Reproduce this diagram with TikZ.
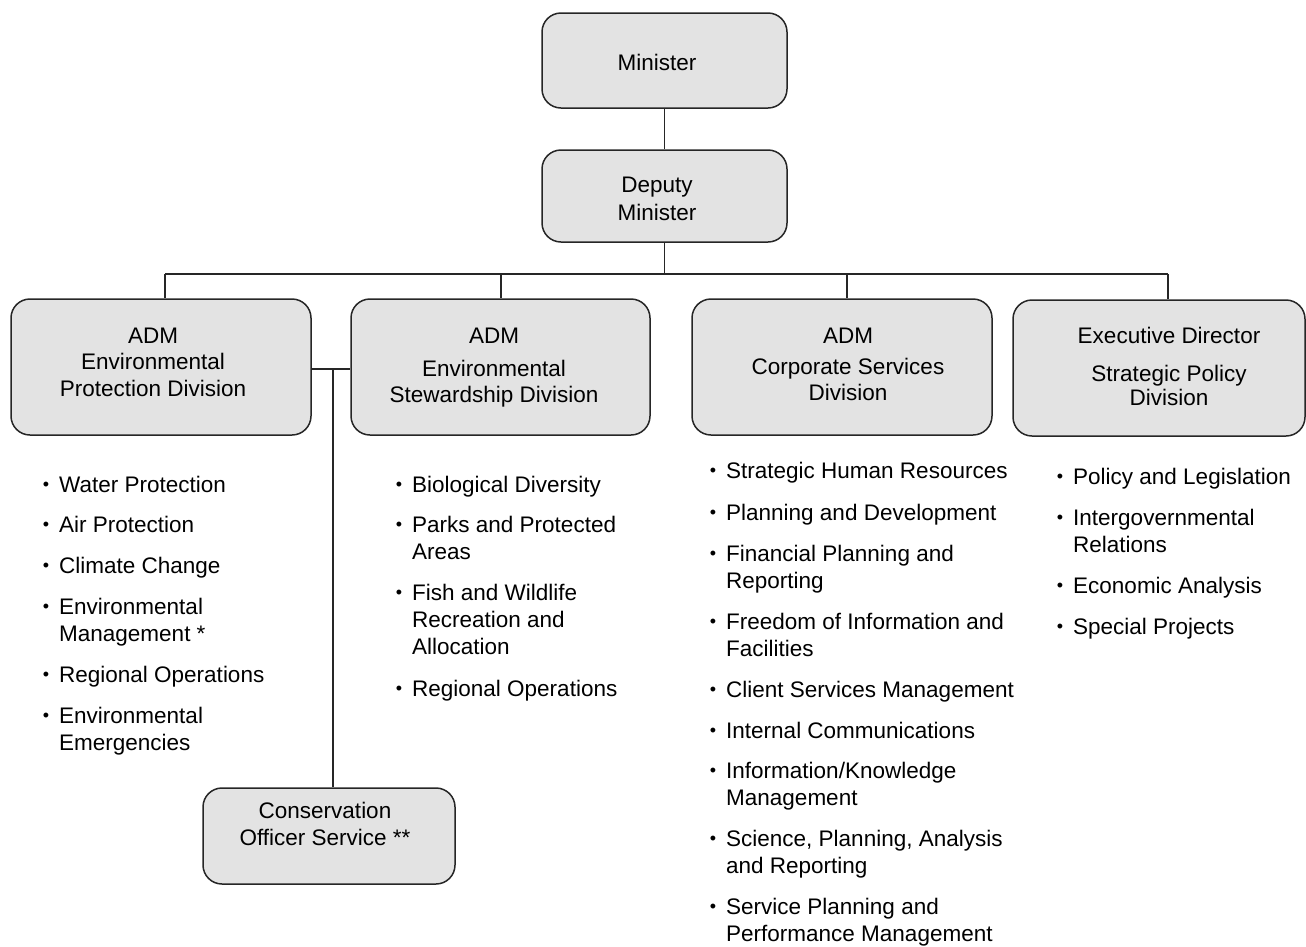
\documentclass[tikz,border=0pt]{standalone}
\usepackage{fontspec}
\setmainfont{Liberation Sans}
\newcommand\bul{\llap{\strut\raisebox{1.2pt}{\scalebox{0.8}{\textbullet}}\hspace{10pt}}}
\begin{document}
\begin{tikzpicture}[x=1pt,y=-1pt,
  orgbox/.style={draw=black!85,line width=1.5pt,fill=black!11,rounded corners=19pt,inner sep=0pt},
  boxtext/.style={anchor=north,inner sep=0pt,align=center,font=\fontsize{22.5}{27}\selectfont},
  bitem/.style={anchor=north west,inner sep=0pt,align=left,font=\fontsize{22.5}{27}\selectfont},
  conn/.style={draw=black!85,line width=1.5pt}]
\useasboundingbox (0,0) rectangle (1306,946);

% boxes
\node[orgbox,minimum width=245pt,minimum height=95pt] (min) at (664.5,60.5) {};
\node[orgbox,minimum width=245pt,minimum height=92pt] (dm) at (664.5,196) {};
\node[orgbox,minimum width=300pt,minimum height=136pt] (ep) at (161,367) {};
\node[orgbox,minimum width=299pt,minimum height=136pt] (es) at (500.5,367) {};
\node[orgbox,minimum width=300pt,minimum height=136pt] (cs) at (842,367) {};
\node[orgbox,minimum width=292pt,minimum height=136pt] (sp) at (1159,368) {};
\node[orgbox,minimum width=252pt,minimum height=96pt] (cos) at (329,836) {};

% box texts
\node[boxtext] (mint) at (657,51) {\strut Minister};
\node[boxtext] (dmt) at (657,173) {\strut Deputy\\[1pt]Minister};
\node[boxtext] (ept) at (153,324) {\strut ADM\\[-0.5pt]Environmental\\[-0.5pt]Protection Division};
\node[boxtext] (est) at (494,324) {\strut ADM\\[6pt]Environmental\\[-1pt]Stewardship Division};
\node[boxtext] (cst) at (848,324) {\strut ADM\\[4pt]Corporate Services\\[-1pt]Division};
\node[boxtext] (spt) at (1169,324) {\strut Executive Director\\[11pt]Strategic Policy\\[-3pt]Division};
\node[boxtext] (cost) at (325,799) {\strut Conservation\\Officer Service **};

% connectors
\coordinate (b1) at (165,274);
\coordinate (b2) at (501,274);
\coordinate (b3) at (847,274);
\coordinate (b4) at (1168,274);
\coordinate (j) at (333,369);
\draw[conn] (min.south) -- (dm.north);
\draw[conn] (dm.south) -- (dm.south |- b1);
\draw[conn] (b1) -- (b4);
\draw[conn] (b1) -- (b1 |- ep.north);
\draw[conn] (b2) -- (b2 |- es.north);
\draw[conn] (b3) -- (b3 |- cs.north);
\draw[conn] (b4) -- (b4 |- sp.north);
\draw[conn] (ep.east |- j) -- (es.west |- j);
\draw[conn] (j) -- (j |- cos.north);

% list 1
\node[bitem] (a1) at (59,473) {\bul Water Protection};
\node[bitem] (a2) at (59,513) {\bul Air Protection};
\node[bitem] (a3) at (59,554) {\bul Climate Change};
\node[bitem] (a4) at (59,595) {\bul Environmental\\Management *};
\node[bitem] (a5) at (59,663) {\bul Regional Operations};
\node[bitem] (a6) at (59,704) {\bul Environmental\\Emergencies};

% list 2
\node[bitem] (c1) at (412,473) {\bul Biological Diversity};
\node[bitem] (c2) at (412,513) {\bul Parks and Protected\\Areas};
\node[bitem] (c3) at (412,581) {\bul Fish and Wildlife\\Recreation and\\Allocation};
\node[bitem] (c4) at (412,677) {\bul Regional Operations};

% list 3
\node[bitem] (d1) at (726,459) {\bul Strategic Human Resources};
\node[bitem] (d2) at (726,501) {\bul Planning and Development};
\node[bitem] (d3) at (726,542) {\bul Financial Planning and\\Reporting};
\node[bitem] (d4) at (726,610) {\bul Freedom of Information and\\Facilities};
\node[bitem] (d5) at (726,678) {\bul Client Services Management};
\node[bitem] (d6) at (726,719) {\bul Internal Communications};
\node[bitem] (d7) at (726,759) {\bul Information/Knowledge\\Management};
\node[bitem] (d8) at (726,827) {\bul Science, Planning, Analysis\\and Reporting};
\node[bitem] (d9) at (726,895) {\bul Service Planning and\\Performance Management};

% list 4
\node[bitem] (e1) at (1073,465) {\bul Policy and Legislation};
\node[bitem] (e2) at (1073,506) {\bul Intergovernmental\\Relations};
\node[bitem] (e3) at (1073,574) {\bul Economic Analysis};
\node[bitem] (e4) at (1073,615) {\bul Special Projects};
\end{tikzpicture}
\end{document}
